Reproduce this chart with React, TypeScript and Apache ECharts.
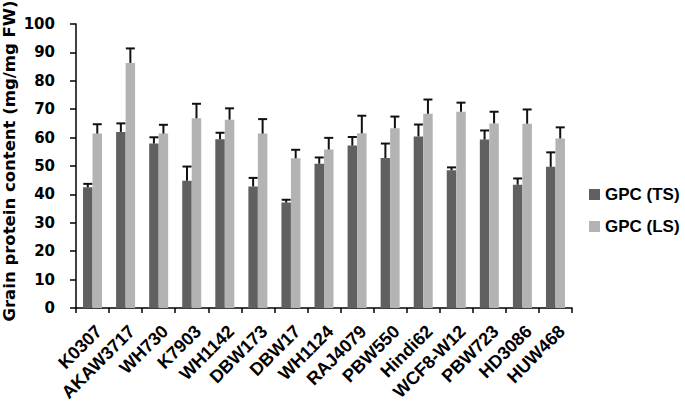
import React, { useEffect, useRef } from "react";
import * as echarts from "echarts";

const categories = ["K0307", "AKAW3717", "WH730", "K7903", "WH1142", "DBW173", "DBW17", "WH1124", "RAJ4079", "PBW550", "Hindi62", "WCF8-W12", "PBW723", "HD3086", "HUW468"];
const tsValues = [42.5, 62.0, 57.9, 44.8, 59.4, 42.8, 37.1, 50.8, 57.2, 52.8, 60.4, 48.5, 59.3, 43.4, 49.7];
const tsErrors = [1.2, 3.0, 2.2, 5.0, 2.3, 3.0, 1.0, 2.2, 3.0, 5.1, 4.2, 1.0, 3.2, 2.2, 5.1];
const lsValues = [61.4, 86.3, 61.4, 66.8, 66.3, 61.4, 52.7, 55.8, 61.5, 63.3, 68.4, 69.1, 65.0, 64.9, 59.7];
const lsErrors = [3.3, 5.1, 3.1, 5.1, 4.0, 5.1, 3.0, 4.1, 6.2, 4.1, 5.0, 3.2, 4.1, 5.0, 3.9];
const seriesNames = ["GPC (TS)", "GPC (LS)"];
const yTitle = "Grain protein content (mg/mg FW)";

const BAR_W = 9.5;

function errorSeries(values: number[], errors: number[], side: number) {
  return {
    type: "custom",
    silent: true,
    z: 5,
    data: values.map((v, i) => [i, v, errors[i]]),
    encode: { x: 0, y: 1 },
    renderItem: (params: any, api: any) => {
      const idx = api.value(0);
      const v = api.value(1);
      const e = api.value(2);
      const base = api.coord([idx, v]);
      const top = api.coord([idx, v + e]);
      const x = base[0] + side * BAR_W / 2;
      const capHalf = 4.5;
      const style = { stroke: "#111", lineWidth: 2 };
      return {
        type: "group",
        children: [
          { type: "line", shape: { x1: x, y1: base[1], x2: x, y2: top[1] }, style },
          { type: "line", shape: { x1: x - capHalf, y1: top[1], x2: x + capHalf, y2: top[1] }, style },
        ],
      };
    },
  };
}

export default function App() {
  const ref = useRef<HTMLDivElement>(null);
  useEffect(() => {
    const chart = echarts.init(ref.current!, null, { renderer: "svg" });
    chart.setOption({
      animation: false,
      backgroundColor: "#fff",
      grid: { left: 76, right: 113, top: 24, bottom: 94, containLabel: false },
      graphic: [
        {
          type: "text",
          x: 9,
          y: 161,
          rotation: Math.PI / 2,
          style: {
            text: yTitle,
            align: "center",
            verticalAlign: "middle",
            fontFamily: "'DejaVu Sans'",
            fontWeight: "bold",
            fontSize: 16.5,
            fill: "#000",
          },
        },
      ],
      legend: {
        orient: "vertical",
        left: 589,
        top: 186,
        itemWidth: 11,
        itemHeight: 11,
        itemGap: 15,
        padding: 0,
        icon: "rect",
        data: seriesNames,
        textStyle: { fontFamily: "Arial, 'Liberation Sans'", fontWeight: "bold", fontSize: 17, color: "#000" },
      },
      xAxis: {
        type: "category",
        data: categories,
        axisLine: { lineStyle: { color: "#000", width: 1.5 } },
        axisTick: { show: true, length: 5, lineStyle: { color: "#000", width: 1.5 } },
        axisLabel: {
          interval: 0,
          rotate: 45,
          margin: 14,
          align: "right",
          verticalAlign: "top",
          fontFamily: "Arial, 'Liberation Sans'",
          fontWeight: "bold",
          fontSize: 18,
          color: "#000",
        },
      },
      yAxis: {
        type: "value",
        min: 0,
        max: 100,
        interval: 10,
        axisLine: { show: true, lineStyle: { color: "#000", width: 1.5 } },
        axisTick: { show: true, length: 6, lineStyle: { color: "#000", width: 1.5 } },
        splitLine: { show: false },
        axisLabel: { margin: 21, fontFamily: "'DejaVu Sans'", fontWeight: "bold", fontSize: 15, color: "#000" },
      },
      series: [
        { name: seriesNames[0], type: "bar", data: tsValues, barWidth: BAR_W, barGap: "0%", itemStyle: { color: "#606060" } },
        { name: seriesNames[1], type: "bar", data: lsValues, barWidth: BAR_W, barGap: "0%", itemStyle: { color: "#b3b3b3" } },
        errorSeries(tsValues, tsErrors, -1),
        errorSeries(lsValues, lsErrors, 1),
      ],
    });
    return () => chart.dispose();
  }, []);
  return <div ref={ref} style={{ width: 685, height: 404, position: "absolute", left: 0, top: 0 }} />;
}
